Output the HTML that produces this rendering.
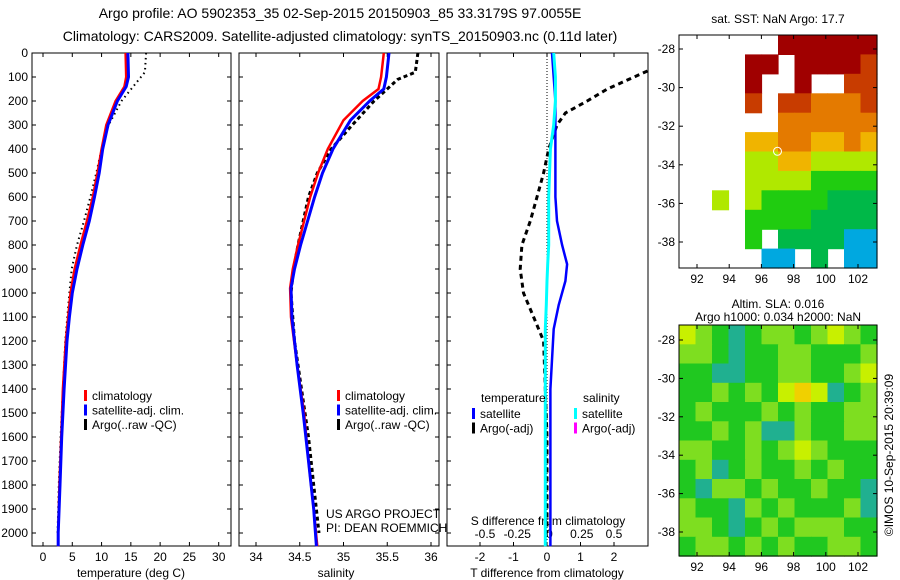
<!DOCTYPE html>
<html><head><meta charset="utf-8"><style>
body{margin:0;background:#fff;}
svg{display:block;font-family:"Liberation Sans",sans-serif;}
</style></head><body>
<svg id="fig" width="900" height="580" xmlns="http://www.w3.org/2000/svg"></svg>
<script>
// ---------- data ----------
const tDepth   = [0,100,140,200,300,400,500,600,700,800,900,1000,1100,1200,1400,1600,1800,2000,2055];
const tClim    = [14.1,14.2,13.9,12.4,10.8,10.0,9.3,8.5,7.5,6.4,5.4,4.7,4.3,3.9,3.4,3.1,2.8,2.6,2.6];
const tSat     = [14.5,14.6,14.2,12.7,11.1,10.2,9.6,8.8,7.9,6.8,5.8,5.0,4.5,4.1,3.6,3.2,2.9,2.6,2.6];
const argoDepth= [0,80,110,200,300,400,500,600,700,800,900,1000,1200,1400,1600,1800,2000];
const tArgo    = [17.6,17.4,16.4,13.4,11.2,10.0,9.1,8.1,7.0,5.8,4.9,4.5,3.8,3.4,3.0,2.7,2.5];
const sDepth   = [0,100,150,200,280,400,500,600,700,800,900,980,1100,1300,1500,1700,1900,2055];
const sClim    = [35.46,35.43,35.4,35.22,35.0,34.82,34.71,34.62,34.55,34.48,34.42,34.39,34.4,34.47,34.55,34.6,34.66,34.7];
const sSat     = [35.52,35.49,35.46,35.3,35.08,34.88,34.76,34.67,34.59,34.51,34.44,34.4,34.41,34.47,34.54,34.6,34.66,34.69];
const sArgo    = [35.85,35.82,35.62,35.35,35.1,34.86,34.7,34.6,34.54,34.48,34.43,34.4,34.44,34.52,34.6,34.66,34.72];
const dDepth   = [0,100,200,300,400,600,700,800,880,950,1050,1150,1400,2000,2055];
const dTsat    = [0.15,0.2,0.25,0.25,0.25,0.25,0.3,0.45,0.6,0.55,0.35,0.2,0.1,0.1,0.1];
const dSsat    = [0.2,0.25,0.25,0.2,0.1,0.05,0.05,0.05,0.02,0.0,-0.02,-0.05,-0.05,-0.05,-0.05];
const dArgoDepth=[75,100,150,200,250,300,400,500,600,700,800,900,1000,1100,1200,1400,1600,2000];
const dTargo   = [3.0,2.6,1.8,1.2,0.55,0.3,0.05,-0.1,-0.3,-0.5,-0.75,-0.8,-0.7,-0.4,-0.1,-0.05,0,0];
const depthTicks=[0,100,200,300,400,500,600,700,800,900,1000,1100,1200,1300,1400,1500,1600,1700,1800,1900,2000];
const tTicks=[0,5,10,15,20,25,30];
const sTicks=[34,34.5,35,35.5,36];
const dTicks=[-2,-1,0,1,2];
const dsTicks=[-0.5,-0.25,0,0.25,0.5];
const dsTickLabels=["-0.5","-0.25","0","0.25","0.5"];
const lonTicks=[92,94,96,98,100,102];
const latTicks1=[-28,-30,-32,-34,-36,-38];
const latTicks2=[-28,-30,-32,-34,-36,-38];
const sstGrid=[
"......999999",
"....99.99998",
"....9..9..88",
"....8.887778",
"......777777",
"....66776676",
"....55665555",
"....55554444",
"..5.54444333",
"....44443333",
"....4.333322",
".....22.3.22"];
const slaGrid=[
"654345545654",
"554344554445",
"443344554456",
"445454676345",
"454445454455",
"445453354455",
"554454565444",
"453454454544",
"435545445443",
"544354544453",
"554345455544",
"455454544554"];
const sstPal={"2":"#00a8e0","3":"#00b848","4":"#20cc10","5":"#b0e800","6":"#f0b400","7":"#e47a00","8":"#c83c00","9":"#a00000"};
const slaPal={"3":"#20b090","4":"#20c820","5":"#7ede20","6":"#c8f000","7":"#f0d000"};

// ---------- helpers ----------
const NS="http://www.w3.org/2000/svg";
const svg=document.getElementById('fig');
function el(tag,attrs,parent){const e=document.createElementNS(NS,tag);for(const k in attrs)e.setAttribute(k,attrs[k]);(parent||svg).appendChild(e);return e;}
function txt(x,y,s,anchor,size,parent){const t=el('text',{x:x,y:y,'font-size':size||12,'text-anchor':anchor||'start',fill:'#000'},parent);t.textContent=s;return t;}
const yD=d=>53+d*0.24;
function linScale(v0,p0,v1,p1){return v=>p0+(v-v0)*(p1-p0)/(v1-v0);}
const xT=linScale(0,43,30,218.7);
const xS=linScale(34,256,36,431);
const xD=linScale(-2,480,2,614);
const xDs=linScale(-0.5,485,0.5,614);

function profile(g,xs,ys,xf,color,w,dash,name){
  let d='';for(let i=0;i<xs.length;i++)d+=(i?'L':'M')+xf(xs[i]).toFixed(1)+','+yD(ys[i]).toFixed(1);
  const p=el('path',{d:d,fill:'none',stroke:color,'stroke-width':w},g);
  if(dash)p.setAttribute('stroke-dasharray',dash);
  
  
}
function frame(g,x0,x1,y0,y1){el('rect',{x:x0,y:y0,width:x1-x0,height:y1-y0,fill:'none',stroke:'#000','stroke-width':1},g);}

// ---------- titles ----------
const title=el('g',{});


txt(340,18,'Argo profile: AO 5902353_35 02-Sep-2015 20150903_85 33.3179S 97.0055E','middle',14,title);
txt(340,41,'Climatology: CARS2009. Satellite-adjusted climatology: synTS_20150903.nc (0.11d later)','middle',14,title);

// ---------- panel 1 temperature ----------
const p1=el('g',{});


frame(p1,32,231,53,546);
depthTicks.forEach(d=>{el('line',{x1:32,x2:36,y1:yD(d),y2:yD(d),stroke:'#000'},p1);el('line',{x1:231,x2:227,y1:yD(d),y2:yD(d),stroke:'#000'},p1);txt(28,yD(d)+4,String(d),'end',12,p1);});
tTicks.forEach(v=>{el('line',{x1:xT(v),x2:xT(v),y1:546,y2:542,stroke:'#000'},p1);el('line',{x1:xT(v),x2:xT(v),y1:53,y2:57,stroke:'#000'},p1);txt(xT(v),561,String(v),'middle',12,p1);});
txt(131,577,'temperature (deg C)','middle',12,p1);
profile(p1,tArgo,argoDepth,xT,'#000',2,'1.5,3.5','temp-argo-line');
profile(p1,tClim,tDepth,xT,'#f00',2.5,null,'temp-climatology-line');
profile(p1,tSat,tDepth,xT,'#00f',3,null,'temp-satellite-line');
function legend(g,x,y,items){items.forEach((it,i)=>{el('rect',{x:x,y:y+i*14.5-8,width:3,height:11,fill:it[0]},g);txt(x+8,y+i*14.5+2,it[1],'start',12,g);});}
const lg1=el('g',{},p1);
legend(lg1,84,398,[['#f00','climatology'],['#00f','satellite-adj. clim.'],['#000','Argo(..raw -QC)']]);

// ---------- panel 2 salinity ----------
const p2=el('g',{});


frame(p2,239,439,53,546);
depthTicks.forEach(d=>{el('line',{x1:239,x2:243,y1:yD(d),y2:yD(d),stroke:'#000'},p2);el('line',{x1:439,x2:435,y1:yD(d),y2:yD(d),stroke:'#000'},p2);});
sTicks.forEach(v=>{el('line',{x1:xS(v),x2:xS(v),y1:546,y2:542,stroke:'#000'},p2);el('line',{x1:xS(v),x2:xS(v),y1:53,y2:57,stroke:'#000'},p2);txt(xS(v),561,String(v),'middle',12,p2);});
txt(336,577,'salinity','middle',12,p2);
profile(p2,sArgo,argoDepth,xS,'#000',3,'4,3','sal-argo-line');
profile(p2,sClim,sDepth,xS,'#f00',2.5,null,'sal-climatology-line');
profile(p2,sSat,sDepth,xS,'#00f',3,null,'sal-satellite-line');
const lg2=el('g',{},p2);
legend(lg2,337,398,[['#f00','climatology'],['#00f','satellite-adj. clim.'],['#000','Argo(..raw -QC)']]);
txt(326,518,'US ARGO PROJECT','start',12,p2);
txt(326,532,'PI: DEAN ROEMMICH','start',12,p2);

// ---------- panel 3 differences ----------
const p3=el('g',{});


frame(p3,447,648,53,546);
el('line',{x1:xD(0),x2:xD(0),y1:53,y2:546,stroke:'#000','stroke-width':1,'stroke-dasharray':'1,2'},p3);
depthTicks.forEach(d=>{el('line',{x1:447,x2:451,y1:yD(d),y2:yD(d),stroke:'#000'},p3);});
dTicks.forEach(v=>{el('line',{x1:xD(v),x2:xD(v),y1:546,y2:542,stroke:'#000'},p3);el('line',{x1:xD(v),x2:xD(v),y1:53,y2:57,stroke:'#000'},p3);txt(xD(v),561,String(v),'middle',12,p3);});
txt(547,577,'T difference from climatology','middle',12,p3);
dsTicks.forEach((v,i)=>{txt(xDs(v),538,dsTickLabels[i],'middle',12,p3);});
txt(548,525,'S difference from climatology','middle',12,p3);
profile(p3,dTargo,dArgoDepth,xD,'#000',3,'5,4','tdiff-argo-line');
profile(p3,dTsat,dDepth,xD,'#00f',2.5,null,'tdiff-satellite-line');
profile(p3,dSsat,dDepth,xD,'#0ff',3,null,'sdiff-satellite-line');
const lg3=el('g',{},p3);
txt(481,402,'temperature','start',12,lg3);
txt(583,402,'salinity','start',12,lg3);
legend(lg3,472,416,[['#00f','satellite'],['#000','Argo(-adj)']]);
legend(lg3,574,416,[['#0ff','satellite'],['#f0f','Argo(-adj)']]);

// ---------- maps ----------
const xLon=linScale(92,697,102,858);
function map(name,grid,pal,x0,x1,y0,y1,latf,latTicks,title1,title2){
  const g=el('g',{});
  
  
  const rows=grid.length,cols=grid[0].length,cw=(x1-x0)/cols,ch=(y1-y0)/rows;
  grid.forEach((row,r)=>{for(let c=0;c<cols;c++){const k=row[c];if(pal[k]){const cell=el('rect',{x:(x0+c*cw).toFixed(1),y:(y0+r*ch).toFixed(1),width:(cw+0.6).toFixed(1),height:(ch+0.6).toFixed(1),fill:pal[k]},g);}}});
  frame(g,x0,x1,y0,y1);
  lonTicks.forEach(v=>{el('line',{x1:xLon(v),x2:xLon(v),y1:y1,y2:y1-4,stroke:'#000'},g);el('line',{x1:xLon(v),x2:xLon(v),y1:y0,y2:y0+4,stroke:'#000'},g);txt(xLon(v),y1+15,String(v),'middle',12,g);});
  latTicks.forEach(v=>{const y=latf(v);if(y<y0||y>y1)return;el('line',{x1:x0,x2:x0+4,y1:y,y2:y,stroke:'#000'},g);el('line',{x1:x1,x2:x1-4,y1:y,y2:y,stroke:'#000'},g);txt(x0-4,y+4,String(v),'end',12,g);});
  if(title1)txt((x0+x1)/2,title2?y0-17:y0-12,title1,'middle',12,g);
  if(title2)txt((x0+x1)/2,y0-4,title2,'middle',12,g);
  return g;
}
map('sst-map',sstGrid,sstPal,679,877,35,268,linScale(-28,49,-38,242),latTicks1,'sat. SST: NaN Argo: 17.7',null);
map('sla-map',slaGrid,slaPal,679,877,325,556,linScale(-28,340,-38,532),latTicks2,'Altim. SLA: 0.016','Argo h1000: 0.034 h2000: NaN');
const argoMark=el('circle',{cx:xLon(97),cy:linScale(-28,49,-38,242)(-33.3),r:4,fill:'none',stroke:'#fff','stroke-width':1});


const cr=txt(0,0,'©IMOS 10-Sep-2015 20:39:09','middle',12);
cr.setAttribute('transform','translate(893,455) rotate(-90)');


</script>
</body></html>
